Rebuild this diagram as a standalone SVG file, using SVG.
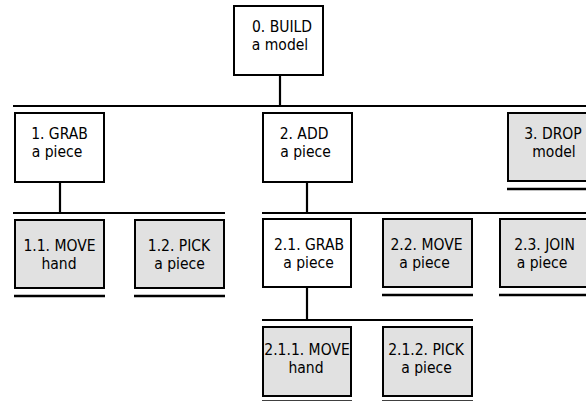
<svg xmlns="http://www.w3.org/2000/svg" width="586" height="401" viewBox="0 0 586 401">
<style>
.box{stroke:#000;stroke-width:2;fill:#fff}
.leaf{stroke:#000;stroke-width:2;fill:#e1e1e1}
.ul{stroke:#000;stroke-width:2.5}
.c{stroke:#000;stroke-width:2.2;fill:none}
text{font-family:"DejaVu Sans Condensed","DejaVu Sans",sans-serif;font-size:15.5px;fill:#000;text-anchor:middle}
</style>
<rect width="586" height="401" fill="#fff"/>
<g id="connectors">
<line class="c" x1="280" y1="75" x2="280" y2="106"/>
<line class="c" x1="13" y1="106" x2="586" y2="106"/>
<line class="c" x1="60" y1="183" x2="60" y2="213"/>
<line class="c" x1="13" y1="213" x2="225" y2="213"/>
<line class="c" x1="307" y1="183" x2="307" y2="213"/>
<line class="c" x1="262" y1="213" x2="586" y2="213"/>
<line class="c" x1="307" y1="288" x2="307" y2="320"/>
<line class="c" x1="262" y1="320" x2="473" y2="320"/>
</g>
<g id="n0">
<rect class="box" x="234" y="6" width="89" height="69"/>
<text x="282" y="32">0. BUILD</text>
<text x="280" y="49.5">a model</text>
</g>
<g id="n1">
<rect class="box" x="15" y="113" width="89" height="69"/>
<text x="59.5" y="138.5">1. GRAB</text>
<text x="57" y="156.5">a piece</text>
</g>
<g id="n2">
<rect class="box" x="263" y="113" width="89" height="69"/>
<text x="304" y="138.5">2. ADD</text>
<text x="305.5" y="156.5">a piece</text>
</g>
<g id="n3">
<rect class="leaf" x="508" y="113" width="89" height="68"/>
<line class="ul" x1="507" y1="189" x2="598" y2="189"/>
<text x="553" y="139">3. DROP</text>
<text x="554" y="157">model</text>
</g>
<g id="n1-1">
<rect class="leaf" x="15" y="220" width="89" height="68"/>
<line class="ul" x1="14" y1="296" x2="105" y2="296"/>
<text x="59.5" y="251">1.1. MOVE</text>
<text x="59" y="268.5">hand</text>
</g>
<g id="n1-2">
<rect class="leaf" x="135" y="220" width="89" height="68"/>
<line class="ul" x1="134" y1="296" x2="225" y2="296"/>
<text x="179" y="251">1.2. PICK</text>
<text x="179.5" y="268.5">a piece</text>
</g>
<g id="n2-1">
<rect class="box" x="263" y="219" width="88" height="68"/>
<text x="309" y="249.5">2.1. GRAB</text>
<text x="308.5" y="267.5">a piece</text>
</g>
<g id="n2-2">
<rect class="leaf" x="383" y="219" width="89" height="68"/>
<line class="ul" x1="382" y1="295" x2="473" y2="295"/>
<text x="426.5" y="249.5">2.2. MOVE</text>
<text x="424.5" y="267.5">a piece</text>
</g>
<g id="n2-3">
<rect class="leaf" x="500" y="219" width="89" height="68"/>
<line class="ul" x1="499" y1="295" x2="590" y2="295"/>
<text x="544.5" y="249.5">2.3. JOIN</text>
<text x="542" y="267.5">a piece</text>
</g>
<g id="n2-1-1">
<rect class="leaf" x="263" y="327" width="88" height="69"/>
<line class="ul" x1="262" y1="401.5" x2="352" y2="401.5"/>
<text x="307" y="355">2.1.1. MOVE</text>
<text x="306" y="373">hand</text>
</g>
<g id="n2-1-2">
<rect class="leaf" x="383" y="327" width="89" height="69"/>
<line class="ul" x1="382" y1="401.5" x2="473" y2="401.5"/>
<text x="426" y="355">2.1.2. PICK</text>
<text x="426.5" y="373">a piece</text>
</g>
</svg>
